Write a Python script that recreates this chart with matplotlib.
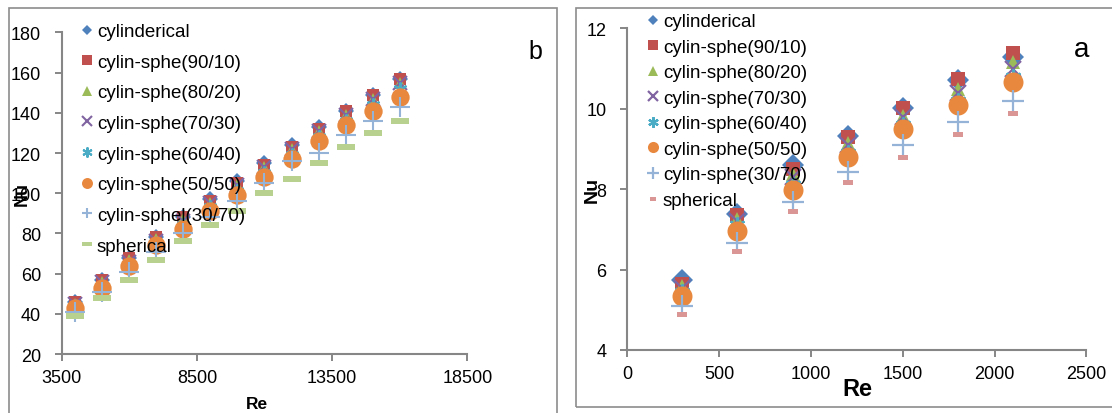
import matplotlib.pyplot as plt
from matplotlib.patches import Rectangle

plt.rcParams['font.family'] = ['Liberation Sans', 'DejaVu Sans']

# panel b (turbulent range)
re_b = [4000, 5000, 6000, 7000, 8000, 9000, 10000, 11000, 12000, 13000, 14000, 15000, 16000]
nu_b_cyl = [46, 57, 68, 78, 88, 97, 106, 115, 124, 133, 141, 149, 157]
nu_b_90 = [46, 57, 68, 78, 88, 96, 105, 114, 123, 132, 141, 149, 157]
nu_b_80 = [45, 56, 67, 77, 87, 95, 104, 113, 122, 131, 139, 147, 155]
nu_b_70 = [45, 56, 66, 76, 86, 95, 104, 113, 122, 131, 139, 147, 155]
nu_b_60 = [44, 54, 65, 75, 84, 93, 101, 110, 119, 128, 136, 144, 152]
nu_b_50 = [43, 53, 64, 74, 82, 91, 99, 108, 117, 126, 134, 141, 148]
nu_b_30 = [41, 51, 61, 71, 80, 88, 96, 105, 116, 120, 129, 136, 143]
nu_b_sph = [39, 48, 57, 67, 76, 84, 91, 100, 107, 115, 123, 130, 136]

# panel a (laminar range)
re_a = [300, 600, 900, 1200, 1500, 1800, 2100]
nu_a_cyl = [5.73, 7.39, 8.60, 9.31, 10.03, 10.71, 11.29]
nu_a_90 = [5.63, 7.35, 8.50, 9.30, 10.03, 10.74, 11.38]
nu_a_80 = [5.60, 7.25, 8.37, 9.15, 9.83, 10.50, 11.15]
nu_a_70 = [5.55, 7.20, 8.30, 9.10, 9.80, 10.40, 11.00]
nu_a_60 = [5.45, 7.10, 8.10, 8.90, 9.60, 10.20, 10.80]
nu_a_50 = [5.34, 6.96, 7.98, 8.79, 9.49, 10.09, 10.67]
nu_a_30 = [5.10, 6.67, 7.67, 8.42, 9.10, 9.66, 10.20]
nu_a_sph = [4.89, 6.47, 7.46, 8.19, 8.81, 9.37, 9.89]

labels_b = ['cylinderical', 'cylin-sphe(90/10)', 'cylin-sphe(80/20)', 'cylin-sphe(70/30)',
            'cylin-sphe(60/40)', 'cylin-sphe(50/50)', 'cylin-sphel(30/70)', 'spherical']
labels_a = ['cylinderical', 'cylin-sphe(90/10)', 'cylin-sphe(80/20)', 'cylin-sphe(70/30)',
            'cylin-sphe(60/40)', 'cylin-sphe(50/50)', 'cylin-sphe(30/70)', 'spherical']

dash_b = [(-1, -0.28), (1, -0.28), (1, 0.28), (-1, 0.28), (-1, -0.28)]
dash_a = [(-1, -0.5), (1, -0.5), (1, 0.5), (-1, 0.5), (-1, -0.5)]
markers_b = ['D', 's', '^', 'x', (6, 2, 0), 'o', '+', dash_b]
markers_a = ['D', 's', '^', 'x', (6, 2, 0), 'o', '+', dash_a]
colors_b = ['#4F81BD', '#C0504D', '#9BBB59', '#8064A2', '#4BACC6', '#E8883E', '#95B3D7', '#B9D18F']
colors_a = ['#4F81BD', '#C0504D', '#9BBB59', '#8064A2', '#4BACC6', '#E8883E', '#95B3D7', '#D99694']
sizes_b = [8.4, 8.2, 8.8, 10, 10, 13.2, 14, 13]
sizes_a = [10.7, 10, 10, 11.5, 11.5, 14.4, 16, 7.2]
# legend swatch sizes (Excel caps them)
leg_sizes_b = [5.1, 7.2, 7.4, 7.2, 7.2, 7.9, 7.9, 7.9]
leg_sizes_a = [5.6, 7.9, 7.9, 7.6, 7.6, 8.0, 8.0, 4.5]
line_markers = ['x', '+', (6, 2, 0)]

gray = '#868686'
fig = plt.figure(figsize=(11.12, 4.14), dpi=100)

# outer chart frames
fig.add_artist(Rectangle((9 / 1112, -0.1), 548 / 1112, 1.1 - 9 / 414, transform=fig.transFigure,
                         fill=False, ec='#8c8c8c', lw=1.2))
fig.add_artist(Rectangle((576 / 1112, 1 - 408 / 414), 0.6, 399 / 414, transform=fig.transFigure,
                         fill=False, ec='#8c8c8c', lw=1.2))

ax_b = fig.add_axes([0.0555, 0.1425, 0.3647, 0.7766])
ax_a = fig.add_axes([0.5641, 0.1522, 0.4128, 0.777])

series_b = [nu_b_cyl, nu_b_90, nu_b_80, nu_b_70, nu_b_60, nu_b_50, nu_b_30, nu_b_sph]
series_a = [nu_a_cyl, nu_a_90, nu_a_80, nu_a_70, nu_a_60, nu_a_50, nu_a_30, nu_a_sph]

for ys, lab, m, c, s in zip(series_b, labels_b, markers_b, colors_b, sizes_b):
    is_line = any(m == lm for lm in line_markers)
    ax_b.plot(re_b, ys, linestyle='none', marker=m, color=c, markersize=s,
              markeredgewidth=1.5 if is_line else 0, label=lab)

for ys, lab, m, c, s in zip(series_a, labels_a, markers_a, colors_a, sizes_a):
    is_line = any(m == lm for lm in line_markers)
    ax_a.plot(re_a, ys, linestyle='none', marker=m, color=c, markersize=s,
              markeredgewidth=1.6 if is_line else 0, label=lab)

for ax in (ax_b, ax_a):
    for side in ('top', 'right'):
        ax.spines[side].set_visible(False)
    for side in ('left', 'bottom'):
        ax.spines[side].set_color(gray)
        ax.spines[side].set_linewidth(1.5)
    ax.tick_params(direction='out', length=5, width=1.4, color=gray, labelsize=13)
    ax.tick_params(axis='y', pad=10)
    ax.tick_params(axis='x', pad=6)

ax_b.set_xlim(3500, 18500)
ax_b.set_xticks([3500, 8500, 13500, 18500])
ax_b.set_ylim(20, 180)
ax_b.set_yticks(range(20, 181, 20))

ax_a.set_xlim(0, 2500)
ax_a.set_xticks(range(0, 2501, 500))
ax_a.set_ylim(4, 12)
ax_a.set_yticks(range(4, 13, 2))

fig.text(257 / 1112, 1 - 405 / 414, 'Re', fontsize=12.5, fontweight='bold', ha='center', va='center')
fig.text(22 / 1112, 1 - 194 / 414, 'Nu', fontsize=13, fontweight='bold', rotation=90,
         ha='center', va='center')
fig.text(857 / 1112, 1 - 390 / 414, 'Re', fontsize=17, fontweight='bold', ha='center', va='center')
fig.text(592 / 1112, 1 - 190 / 414, 'Nu', fontsize=14, fontweight='bold', rotation=90,
         ha='center', va='center')

fig.text(535 / 1112, 1 - 52 / 414, 'b', fontsize=18, ha='center', va='center')
fig.text(1082 / 1112, 1 - 50 / 414, 'a', fontsize=20, ha='center', va='center')

leg_b = ax_b.legend(loc='upper left', bbox_to_anchor=(80 / 1112, 1 - 24 / 414),
                    bbox_transform=fig.transFigure, frameon=False, fontsize=13.5,
                    handlelength=0.7, handletextpad=0.2, labelspacing=0.72,
                    borderpad=0, borderaxespad=0)
leg_a = ax_a.legend(loc='upper left', bbox_to_anchor=(646 / 1112, 1 - 14 / 414),
                    bbox_transform=fig.transFigure, frameon=False, fontsize=13.5,
                    handlelength=0.7, handletextpad=0.2, labelspacing=0.45,
                    borderpad=0, borderaxespad=0)
for h, s in zip(leg_b.legend_handles, leg_sizes_b):
    h.set_markersize(s)
for h, s in zip(leg_a.legend_handles, leg_sizes_a):
    h.set_markersize(s)

fig.savefig('out.png', dpi=100)
